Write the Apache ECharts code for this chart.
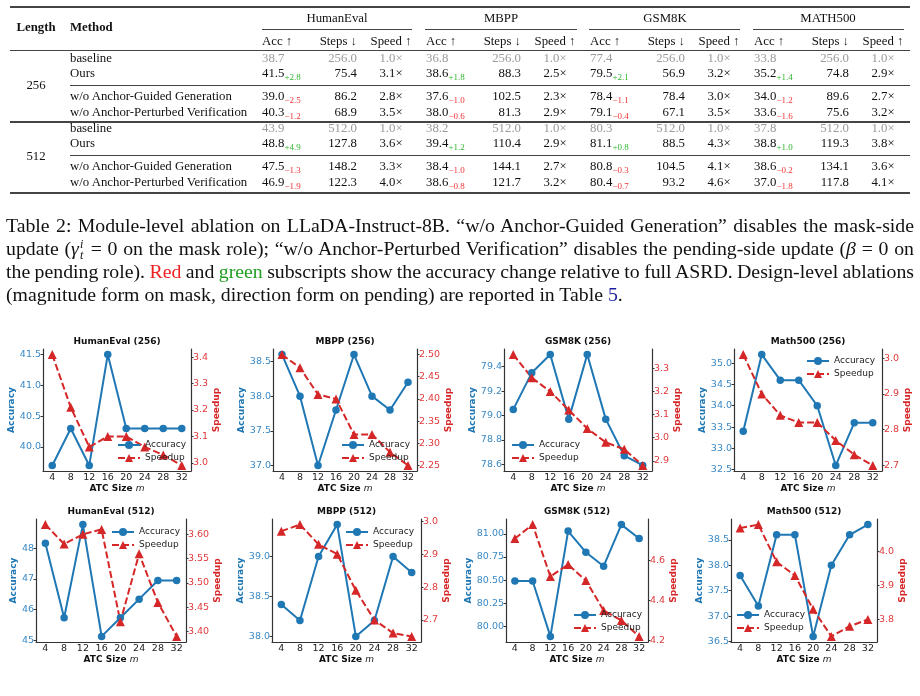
<!DOCTYPE html>
<html>
<head>
<meta charset="utf-8">
<script src="https://cdn.jsdelivr.net/npm/echarts@6/dist/echarts.min.js"></script>
<style>
  body { margin: 0; background: #fff; width: 920px; height: 696px; overflow: hidden; position: relative; }
  #chart { position: absolute; left: 0; top: 0; width: 920px; height: 696px; }
  #page { position: absolute; left: 0; top: 0; width: 920px; height: 310px; font-family: "Liberation Serif", serif; color: #111; z-index: 2; }
  .t { position: absolute; white-space: nowrap; font-size: 12.8px; line-height: 16px; }
  .b { font-weight: bold; }
  .g { color: #9a9a9a; }
  .rule { position: absolute; background: #444; }
  sub.d { font-size: 9px; vertical-align: -3px; line-height: 0; }
  .cap { position: absolute; left: 6px; width: 908px; font-size: 19.8px; line-height: 23px; word-spacing: -1px; text-align: justify; text-align-last: justify; }
  .ss { position: relative; display: inline-block; width: 6px; height: 0; font-style: italic; font-size: 12px; }
  .ss span { position: absolute; left: 1px; line-height: 12px; }
  .ss .u { top: -17px; }
  .ss .l { top: -6px; }
</style>
</head>
<body>
<div id="page"></div>
<div id="chart"></div>
<script>
// ---------------- table data ----------------
const datasets = ['HumanEval', 'MBPP', 'GSM8K', 'MATH500'];
const methods = ['baseline', 'Ours', 'w/o Anchor-Guided Generation', 'w/o Anchor-Perturbed Verification'];
const lengths = ['256', '512'];

const acc256 = [[38.7, 36.8, 77.4, 33.8], [41.5, 38.6, 79.5, 35.2], [39.0, 37.6, 78.4, 34.0], [40.3, 38.0, 79.1, 33.6]];
const delta256 = [[], ['+2.8', '+1.8', '+2.1', '+1.4'], ['−2.5', '−1.0', '−1.1', '−1.2'], ['−1.2', '−0.6', '−0.4', '−1.6']];
const steps256 = [[256.0, 256.0, 256.0, 256.0], [75.4, 88.3, 56.9, 74.8], [86.2, 102.5, 78.4, 89.6], [68.9, 81.3, 67.1, 75.6]];
const speed256 = [[1.0, 1.0, 1.0, 1.0], [3.1, 2.5, 3.2, 2.9], [2.8, 2.3, 3.0, 2.7], [3.5, 2.9, 3.5, 3.2]];

const acc512 = [[43.9, 38.2, 80.3, 37.8], [48.8, 39.4, 81.1, 38.8], [47.5, 38.4, 80.8, 38.6], [46.9, 38.6, 80.4, 37.0]];
const delta512 = [[], ['+4.9', '+1.2', '+0.8', '+1.0'], ['−1.3', '−1.0', '−0.3', '−0.2'], ['−1.9', '−0.8', '−0.7', '−1.8']];
const steps512 = [[512.0, 512.0, 512.0, 512.0], [127.8, 110.4, 88.5, 119.3], [148.2, 144.1, 104.5, 134.1], [122.3, 121.7, 93.2, 117.8]];
const speed512 = [[1.0, 1.0, 1.0, 1.0], [3.6, 2.9, 4.3, 3.8], [3.3, 2.7, 4.1, 3.6], [4.0, 3.2, 4.6, 4.1]];

// ---------------- chart data ----------------
const atcSizes = ['4', '8', '12', '16', '20', '24', '28', '32'];

const accHumanEval256 = [39.7, 40.3, 39.7, 41.5, 40.3, 40.3, 40.3, 40.3];
const spdHumanEval256 = [3.41, 3.21, 3.06, 3.10, 3.10, 3.06, 3.03, 2.99];
const accMbpp256 = [38.6, 38.0, 37.0, 37.8, 38.6, 38.0, 37.8, 38.2];
const spdMbpp256 = [2.50, 2.47, 2.41, 2.40, 2.32, 2.32, 2.28, 2.25];
const accGsm256 = [79.05, 79.35, 79.5, 78.97, 79.5, 78.97, 78.67, 78.59];
const spdGsm256 = [3.36, 3.26, 3.20, 3.12, 3.04, 2.98, 2.95, 2.88];
const accMath256 = [33.4, 35.2, 34.6, 34.6, 34.0, 32.6, 33.6, 33.6];
const spdMath256 = [3.01, 2.90, 2.84, 2.82, 2.82, 2.77, 2.73, 2.70];

const accHumanEval512 = [48.17, 45.73, 48.78, 45.12, 45.73, 46.34, 46.95, 46.95];
const spdHumanEval512 = [3.62, 3.58, 3.60, 3.61, 3.42, 3.56, 3.46, 3.39];
const accMbpp512 = [38.4, 38.2, 39.0, 39.4, 38.0, 38.2, 39.0, 38.8];
const spdMbpp512 = [2.97, 2.99, 2.93, 2.90, 2.79, 2.70, 2.66, 2.65];
const accGsm512 = [80.49, 80.49, 79.89, 81.03, 80.80, 80.65, 81.10, 80.95];
const spdGsm512 = [4.71, 4.78, 4.52, 4.58, 4.50, 4.35, 4.30, 4.22];
const accMath512 = [37.8, 37.2, 38.6, 38.6, 36.6, 38.0, 38.6, 38.8];
const spdMath512 = [4.07, 4.08, 3.97, 3.93, 3.83, 3.75, 3.78, 3.80];

// tick labels
const ticksAccHumanEval256 = ['40.0', '40.5', '41.0', '41.5'];
const ticksSpdHumanEval256 = ['3.0', '3.1', '3.2', '3.3', '3.4'];
const ticksAccMbpp256 = ['37.0', '37.5', '38.0', '38.5'];
const ticksSpdMbpp256 = ['2.25', '2.30', '2.35', '2.40', '2.45', '2.50'];
const ticksAccGsm256 = ['78.6', '78.8', '79.0', '79.2', '79.4'];
const ticksSpdGsm256 = ['2.9', '3.0', '3.1', '3.2', '3.3'];
const ticksAccMath256 = ['32.5', '33.0', '33.5', '34.0', '34.5', '35.0'];
const ticksSpdMath256 = ['2.7', '2.8', '2.9', '3.0'];
const ticksAccHumanEval512 = ['45', '46', '47', '48'];
const ticksSpdHumanEval512 = ['3.40', '3.45', '3.50', '3.55', '3.60'];
const ticksAccMbpp512 = ['38.0', '38.5', '39.0'];
const ticksSpdMbpp512 = ['2.7', '2.8', '2.9', '3.0'];
const ticksAccGsm512 = ['80.00', '80.25', '80.50', '80.75', '81.00'];
const ticksSpdGsm512 = ['4.2', '4.4', '4.6'];
const ticksAccMath512 = ['36.5', '37.0', '37.5', '38.0', '38.5'];
const ticksSpdMath512 = ['3.8', '3.9', '4.0'];

const panels = [
  { title: 'HumanEval (256)', acc: accHumanEval256, spd: spdHumanEval256, accTicks: ticksAccHumanEval256, spdTicks: ticksSpdHumanEval256 },
  { title: 'MBPP (256)', acc: accMbpp256, spd: spdMbpp256, accTicks: ticksAccMbpp256, spdTicks: ticksSpdMbpp256 },
  { title: 'GSM8K (256)', acc: accGsm256, spd: spdGsm256, accTicks: ticksAccGsm256, spdTicks: ticksSpdGsm256 },
  { title: 'Math500 (256)', acc: accMath256, spd: spdMath256, accTicks: ticksAccMath256, spdTicks: ticksSpdMath256 },
  { title: 'HumanEval (512)', acc: accHumanEval512, spd: spdHumanEval512, accTicks: ticksAccHumanEval512, spdTicks: ticksSpdHumanEval512 },
  { title: 'MBPP (512)', acc: accMbpp512, spd: spdMbpp512, accTicks: ticksAccMbpp512, spdTicks: ticksSpdMbpp512 },
  { title: 'GSM8K (512)', acc: accGsm512, spd: spdGsm512, accTicks: ticksAccGsm512, spdTicks: ticksSpdGsm512 },
  { title: 'Math500 (512)', acc: accMath512, spd: spdMath512, accTicks: ticksAccMath512, spdTicks: ticksSpdMath512 }
];

// ---------------- table ----------------
const page = document.getElementById('page');

function put(html, x, y, align, cls) {
  const d = document.createElement('div');
  d.className = 't' + (cls ? ' ' + cls : '');
  d.innerHTML = html;
  d.style.left = x + 'px';
  d.style.top = (y - 8) + 'px';
  if (align === 'c') d.style.transform = 'translateX(-50%)';
  if (align === 'r') d.style.transform = 'translateX(-100%)';
  page.appendChild(d);
}
function rule(y, x1, x2, h) {
  const d = document.createElement('div');
  d.className = 'rule';
  d.style.left = x1 + 'px';
  d.style.width = (x2 - x1) + 'px';
  d.style.top = (y - h / 2) + 'px';
  d.style.height = h + 'px';
  page.appendChild(d);
}

const colAcc = [262, 426, 590, 754];
const colSteps = [357, 521, 685, 849];
const colSpeed = [391, 555, 719, 883];
const groupMid = [337, 501, 665, 828];
const cmid = [[262, 412], [425, 577], [589, 740], [753, 904]];
const rowY = [[58, 73, 96, 112], [128, 143, 166, 182]];
const lenY = [85, 156];

rule(7, 10, 910, 1.6);
put('Length', 36, 27, 'c', 'b');
put('Method', 70, 27, 'l', 'b');
datasets.forEach((name, d) => {
  put(name, groupMid[d], 18, 'c');
  rule(29, cmid[d][0], cmid[d][1], 0.8);
  put('Acc ↑', colAcc[d], 41, 'l');
  put('Steps ↓', colSteps[d], 41, 'r');
  put('Speed ↑', colSpeed[d], 41, 'c');
});
rule(50, 10, 910, 1);

const tableAcc = [acc256, acc512], tableDelta = [delta256, delta512];
const tableSteps = [steps256, steps512], tableSpeed = [speed256, speed512];
lengths.forEach((len, l) => {
  put(len, 36, lenY[l], 'c');
  methods.forEach((m, r) => {
    const y = rowY[l][r];
    put(m, 70, y, 'l');
    datasets.forEach((_, d) => {
      const gray = r === 0 ? 'g' : '';
      const dl = tableDelta[l][r][d];
      const col = dl && dl[0] === '+' ? '#2db52d' : '#f03434';
      const sub = dl ? `<sub class="d" style="color:${col}">${dl}</sub>` : '';
      put(tableAcc[l][r][d].toFixed(1) + sub, colAcc[d], y, 'l', gray);
      put(tableSteps[l][r][d].toFixed(1), colSteps[d], y, 'r', gray);
      put(tableSpeed[l][r][d].toFixed(1) + '×', colSpeed[d], y, 'c', gray);
    });
  });
});
rule(85, 70, 910, 1);
rule(122, 10, 910, 1.2);
rule(155, 70, 910, 1);
rule(193, 10, 910, 2);

// ---------------- caption ----------------
const captionLines = [
  'Table 2: Module-level ablation on LLaDA-Instruct-8B. “w/o Anchor-Guided Generation” disables the mask-side',
  'update (<i>γ</i><span class="ss"><span class="u">i</span><span class="l">t</span></span> = 0 on the mask role); “w/o Anchor-Perturbed Verification” disables the pending-side update (<i>β</i> = 0 on',
  'the pending role). <span style="color:#ee2222">Red</span> and <span style="color:#22a022">green</span> subscripts show the accuracy change relative to full ASRD. Design-level ablations',
  '(magnitude form on mask, direction form on pending) are reported in Table <span style="color:#1c1c9c">5</span>.'
];
const captionY = [214, 237, 260, 283];
captionLines.forEach((html, i) => {
  const d = document.createElement('div');
  d.className = 'cap';
  d.style.top = captionY[i] + 'px';
  if (i === captionLines.length - 1) { d.style.textAlignLast = 'left'; d.style.wordSpacing = '0'; }
  d.innerHTML = html;
  page.appendChild(d);
});

// ---------------- charts ----------------
const fontChart = 'DejaVu Sans';
const blue = '#1f77b4', red = '#d62728';
const grids = [[43, 349, 148, 122], [273, 349, 144, 122], [504, 349, 148, 122], [734, 349, 148, 122],
               [36, 519, 150, 123], [272, 519, 149, 123], [506, 519, 142, 123], [731, 519, 146, 123]];
const legendAt = [[117, 440], [341, 440], [511, 440], [806, 356], [111, 527], [345, 527], [573, 610], [736, 610]];
const accNameDist = [28, 28, 29, 29, 21, 29, 36, 31];
const spdNameDist = [25, 28, 23, 23, 29, 22, 24, 23];

function yAxisFor(i, values, labels, side, color, labelColor, name, gap) {
  const lo = Math.min(...values), hi = Math.max(...values), pad = (hi - lo) * 0.05;
  const dec = (labels[0].split('.')[1] || '').length;
  const nums = labels.map(Number);
  return {
    type: 'value', gridIndex: i, position: side, min: lo - pad, max: hi + pad,
    splitLine: { show: false },
    axisLine: { show: true, onZero: false, lineStyle: { color: '#333', width: 1.2 } },
    axisTick: { show: true, length: 2.5, customValues: nums, lineStyle: { color: '#333' } },
    axisLabel: { customValues: nums, formatter: v => v.toFixed(dec), margin: 2, fontSize: 9.5, color: labelColor, fontFamily: fontChart },
    name: name, nameLocation: 'middle', nameRotate: 90, nameGap: gap,
    nameTextStyle: { fontWeight: 'bold', fontSize: 9, color: color, fontFamily: fontChart }
  };
}

const option = { animation: false, title: [], grid: [], xAxis: [], yAxis: [], series: [], legend: [] };

panels.forEach((p, i) => {
  const [gl, gt, gw, gh] = grids[i];
  option.grid.push({ left: gl, top: gt, width: gw, height: gh });
  option.title.push({
    text: p.title, left: gl + gw / 2, top: gt - 12, textAlign: 'center', padding: 0,
    textStyle: { fontSize: 9, fontWeight: 'bold', color: '#111', fontFamily: fontChart }
  });
  option.xAxis.push({
    type: 'category', gridIndex: i, data: atcSizes, boundaryGap: true,
    axisLine: { lineStyle: { color: '#333', width: 1.2 } },
    axisTick: { alignWithLabel: true, length: 2.5, lineStyle: { color: '#333' } },
    axisLabel: { margin: 2, fontSize: 9.5, color: '#222', fontFamily: fontChart },
    name: '{b|ATC Size }{i|m}', nameLocation: 'middle', nameGap: 11,
    nameTextStyle: {
      rich: {
        b: { fontWeight: 'bold', fontSize: 9, color: '#111', fontFamily: fontChart, lineHeight: 11 },
        i: { fontStyle: 'italic', fontSize: 9, color: '#111', fontFamily: fontChart, lineHeight: 11 }
      }
    }
  });
  option.yAxis.push(yAxisFor(i, p.acc, p.accTicks, 'left', blue, '#3a89c5', 'Accuracy', accNameDist[i] - 5));
  option.yAxis.push(yAxisFor(i, p.spd, p.spdTicks, 'right', red, '#e0393b', 'Speedup', spdNameDist[i] - 5));
  option.series.push({
    name: 'Accuracy', type: 'line', xAxisIndex: i, yAxisIndex: 2 * i, data: p.acc,
    symbol: 'circle', symbolSize: 7.5, lineStyle: { width: 2, color: blue }, itemStyle: { color: blue }
  });
  option.series.push({
    name: 'Speedup', type: 'line', xAxisIndex: i, yAxisIndex: 2 * i + 1, data: p.spd,
    symbol: 'triangle', symbolSize: 9, lineStyle: { width: 2, color: red, type: [7, 3] }, itemStyle: { color: red }
  });
  option.legend.push({
    data: ['Accuracy', 'Speedup'], orient: 'vertical', left: legendAt[i][0], top: legendAt[i][1],
    padding: 0, itemWidth: 22, itemHeight: 10, itemGap: 3, selectedMode: false,
    textStyle: { fontFamily: fontChart, fontSize: 9, color: '#222', lineHeight: 10 }
  });
});

const myChart = echarts.init(document.getElementById('chart'));
myChart.setOption(option);
</script>
</body>
</html>
